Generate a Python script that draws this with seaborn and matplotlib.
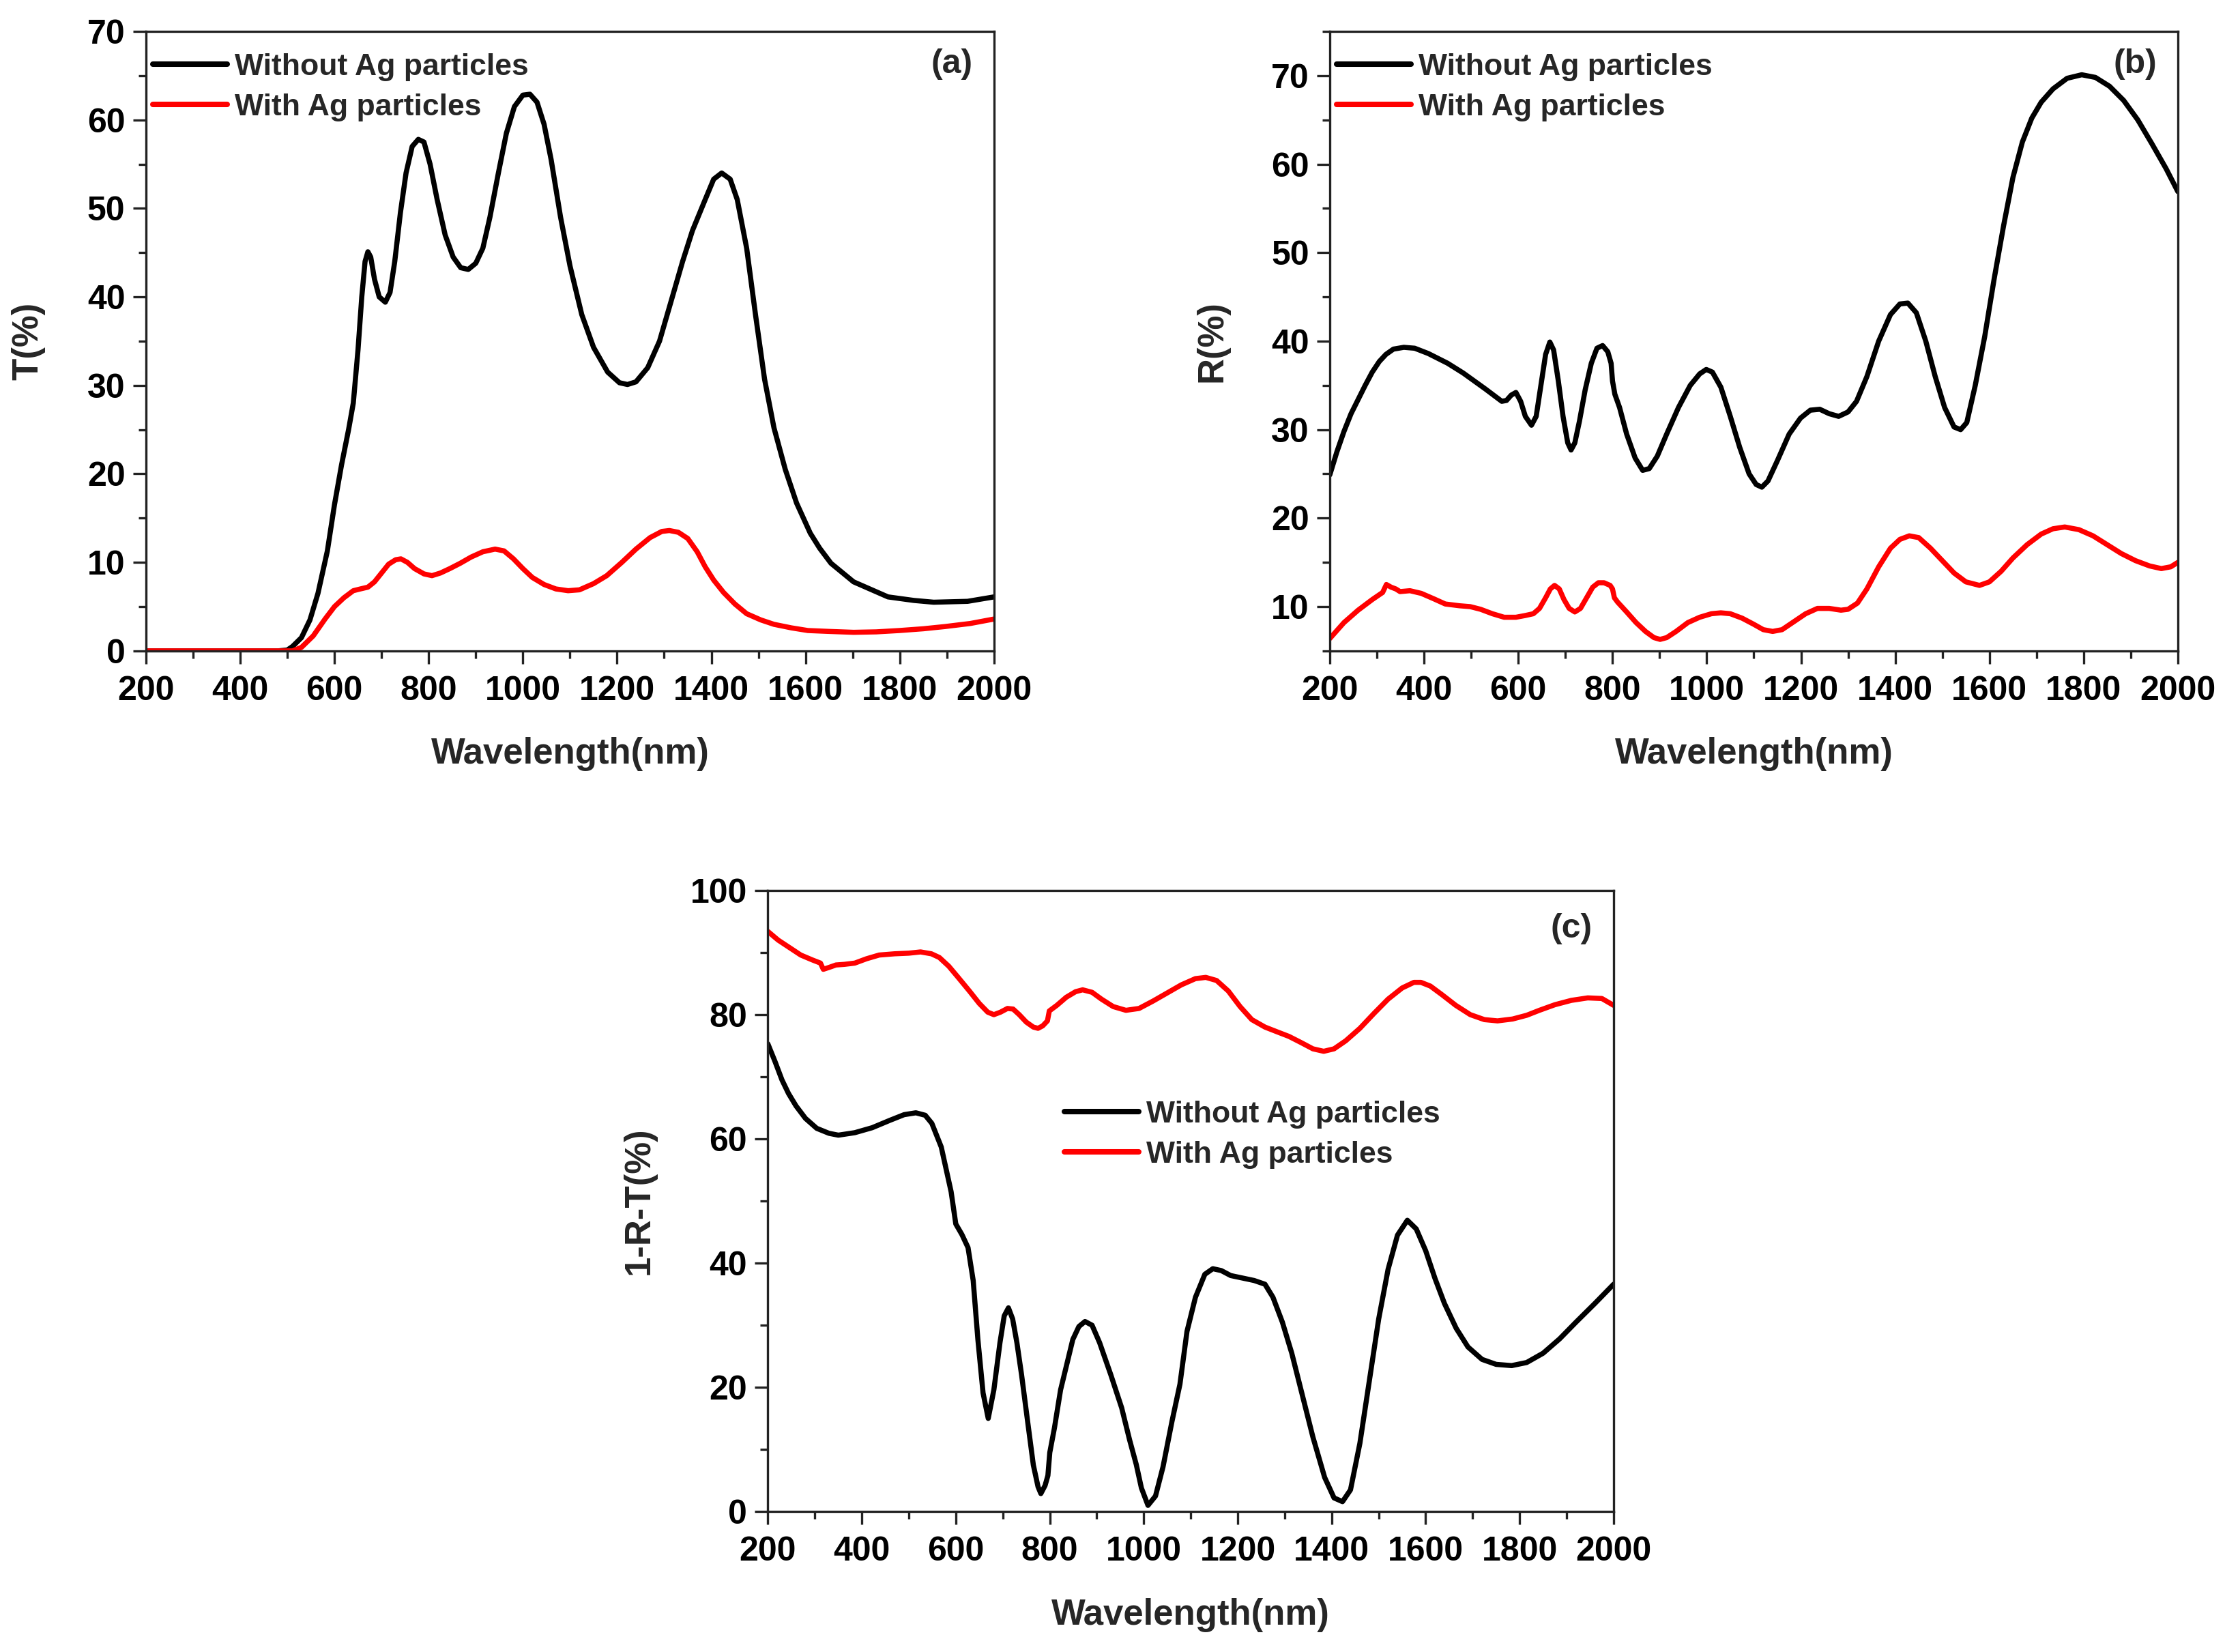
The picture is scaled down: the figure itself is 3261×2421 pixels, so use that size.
import matplotlib
matplotlib.use("Agg")
import matplotlib.pyplot as plt
import seaborn as sns
import numpy as np
import pandas as pd
from matplotlib.ticker import MultipleLocator

# ---------------- data ----------------
# (a) Transmittance
a_black_x = [200, 300, 400, 480, 500, 511, 530, 548, 565, 585, 600, 615, 630, 640, 650, 658, 665, 671, 677, 685,
             695, 708, 718, 728, 740, 752, 765, 778, 790, 803, 818, 835, 852, 868, 884, 900, 915, 930, 948, 965,
             982, 1000, 1015, 1030, 1045, 1060, 1080, 1100, 1125, 1150, 1180, 1205, 1222, 1240, 1265, 1290, 1320,
             1339, 1360, 1387, 1405, 1422, 1440, 1455, 1475, 1494, 1513, 1533, 1557, 1581, 1610, 1630, 1654,
             1702, 1775, 1830, 1872, 1944, 2000]
a_black_y = [0, 0, 0, 0, 0.1, 0.5, 1.5, 3.5, 6.5, 11.3, 16.5, 21.0, 25.0, 28.0, 34.0, 40.0, 44.0, 45.1, 44.5, 42.0,
             40.0, 39.4, 40.5, 44.0, 49.5, 54.0, 57.0, 57.8, 57.5, 55.0, 51.0, 47.0, 44.5, 43.3, 43.1, 43.8, 45.5,
             49.0, 54.0, 58.5, 61.5, 62.8, 62.9, 62.0, 59.5, 55.5, 49.0, 43.5, 38.0, 34.3, 31.5, 30.3, 30.1, 30.4,
             32.0, 35.0, 40.5, 44.0, 47.5, 51.0, 53.3, 54.0, 53.3, 51.0, 45.5, 37.9, 30.7, 25.2, 20.5, 16.7, 13.3,
             11.6, 9.9, 7.8, 6.1, 5.7, 5.5, 5.6, 6.1]

a_red_x = [200, 300, 400, 480, 511, 530, 555, 580, 600, 620, 640, 655, 671, 685, 700, 715, 730, 741, 755, 770,
           790, 807, 825, 845, 867, 890, 915, 941, 960, 980, 1000, 1020, 1045, 1070, 1096, 1120, 1150, 1178,
           1210, 1240, 1270, 1295, 1311, 1330, 1350, 1370, 1387, 1405, 1426, 1450, 1475, 1505, 1533, 1570,
           1605, 1650, 1702, 1750, 1799, 1850, 1896, 1950, 2000]
a_red_y = [0, 0, 0, 0, 0, 0.4, 1.7, 3.6, 5.0, 6.0, 6.8, 7.0, 7.2, 7.8, 8.8, 9.8, 10.3, 10.4, 10.0, 9.3,
           8.7, 8.5, 8.8, 9.3, 9.9, 10.6, 11.2, 11.5, 11.3, 10.4, 9.3, 8.3, 7.5, 7.0, 6.8, 6.9, 7.6, 8.5,
           10.0, 11.5, 12.8, 13.5, 13.6, 13.4, 12.7, 11.2, 9.5, 8.0, 6.6, 5.3, 4.2, 3.5, 3.0, 2.6,
           2.3, 2.2, 2.1, 2.15, 2.3, 2.5, 2.75, 3.1, 3.6]

# (b) Reflectance
b_black_x = [200, 215, 230, 245, 260, 275, 290, 305, 319, 335, 357, 380, 409, 450, 483, 530, 565, 575, 585, 595,
             605, 615, 628, 638, 648, 658, 667, 675, 685, 695, 705, 712, 720, 730, 742, 755, 767, 779, 790, 797,
             800, 805, 815, 830, 848, 864, 878, 895, 915, 940, 965, 985, 999, 1012, 1030, 1050, 1070, 1090, 1105,
             1117, 1130, 1150, 1175, 1199, 1220, 1240, 1260, 1280, 1300, 1318, 1340, 1365, 1390, 1410, 1427,
             1445, 1465, 1485, 1505, 1525, 1539, 1552, 1570, 1590, 1610, 1630, 1650, 1670, 1690, 1710, 1735,
             1765, 1796, 1825, 1855, 1885, 1915, 1945, 1975, 2000]
b_black_y = [24.9, 27.5, 29.8, 31.8, 33.4, 35.0, 36.5, 37.7, 38.5, 39.1, 39.3, 39.2, 38.6, 37.5, 36.4, 34.6, 33.2,
             33.3, 33.9, 34.2, 33.2, 31.5, 30.5, 31.5, 35.0, 38.5, 39.9, 39.0, 35.5, 31.5, 28.5, 27.7, 28.5, 31.0,
             34.5, 37.5, 39.2, 39.5, 38.8, 37.5, 35.5, 34.0, 32.5, 29.5, 26.8, 25.4, 25.6, 27.0, 29.5, 32.5, 35.0,
             36.3, 36.8, 36.5, 34.8, 31.5, 28.0, 25.0, 23.8, 23.5, 24.2, 26.5, 29.5, 31.3, 32.2, 32.3, 31.8, 31.5,
             32.0, 33.2, 36.0, 40.0, 43.0, 44.2, 44.3, 43.2, 40.0, 36.0, 32.5, 30.3, 30.0, 30.8, 35.0, 40.5, 47.0,
             53.0, 58.5, 62.5, 65.2, 67.0, 68.5, 69.7, 70.1, 69.8, 68.8, 67.2, 65.0, 62.3, 59.5, 56.9]

b_red_x = [200, 230, 260, 290, 312, 320, 330, 340, 349, 370, 394, 420, 445, 475, 498, 520, 545, 570, 595, 615,
           632, 645, 658, 668, 677, 687, 697, 708, 720, 732, 745, 758, 770, 782, 795, 800, 804, 811, 830, 850,
           870, 888, 901, 915, 935, 960, 985, 1010, 1030, 1050, 1075, 1100, 1120, 1140, 1160, 1185, 1210, 1235,
           1260, 1285, 1300, 1320, 1340, 1365, 1390, 1410, 1430, 1450, 1475, 1500, 1525, 1550, 1579, 1600,
           1625, 1650, 1680, 1710, 1735, 1760, 1790, 1820, 1850, 1880, 1910, 1940, 1965, 1985, 2000]
b_red_y = [6.4, 8.2, 9.6, 10.8, 11.6, 12.5, 12.2, 12.0, 11.7, 11.8, 11.5, 10.9, 10.3, 10.1, 10.0, 9.7, 9.2, 8.8,
           8.8, 9.0, 9.2, 9.8, 11.0, 12.0, 12.4, 12.0, 10.8, 9.8, 9.4, 9.8, 11.0, 12.2, 12.7, 12.7, 12.4, 12.0,
           11.0, 10.5, 9.4, 8.2, 7.2, 6.5, 6.3, 6.5, 7.2, 8.2, 8.8, 9.2, 9.3, 9.2, 8.7, 8.0, 7.4, 7.2, 7.4, 8.3,
           9.2, 9.8, 9.8, 9.6, 9.7, 10.4, 12.0, 14.5, 16.6, 17.6, 18.0, 17.8, 16.6, 15.2, 13.8, 12.8, 12.4, 12.8,
           14.0, 15.5, 17.0, 18.2, 18.8, 19.0, 18.7, 18.0, 17.0, 16.0, 15.2, 14.6, 14.3, 14.5, 15.0]

# (c) Absorbance 1-R-T
c_black_x = [200, 215, 230, 244, 260, 280, 304, 330, 350, 385, 422, 460, 490, 515, 535, 549, 569, 590, 600, 613,
             626, 637, 647, 658, 669, 681, 694, 703, 712, 721, 730, 740, 752, 765, 775, 781, 790, 796, 800, 810,
             823, 849, 862, 875, 890, 906, 930, 953, 970, 984, 995, 1009, 1025, 1041, 1060, 1077, 1092, 1110,
             1130, 1147, 1165, 1185, 1210, 1235, 1258, 1275, 1295, 1315, 1335, 1360, 1385, 1405, 1423, 1440,
             1460, 1480, 1500, 1520, 1540, 1561, 1580, 1600, 1620, 1640, 1665, 1690, 1720, 1750, 1783, 1815,
             1850, 1885, 1920, 1960, 2000]
c_black_y = [75.3, 72.5, 69.5, 67.3, 65.3, 63.3, 61.7, 60.9, 60.6, 61.0, 61.8, 63.0, 63.9, 64.2, 63.8, 62.5, 58.7,
             51.5, 46.3, 44.6, 42.5, 37.2, 27.7, 19.1, 15.0, 19.6, 27.2, 31.5, 32.8, 31.0, 27.2, 22.0, 15.0, 7.5,
             4.0, 2.9, 4.2, 5.8, 9.5, 13.5, 19.6, 27.7, 29.8, 30.6, 30.0, 27.2, 22.0, 16.7, 11.5, 7.6, 3.8, 1.0,
             2.5, 7.2, 14.5, 20.5, 29.0, 34.5, 38.2, 39.1, 38.8, 38.0, 37.6, 37.2, 36.6, 34.5, 30.5, 25.5, 19.5,
             12.0, 5.5, 2.2, 1.6, 3.5, 11.0, 21.0, 31.0, 39.0, 44.5, 46.9, 45.5, 42.0, 37.5, 33.5, 29.5, 26.5,
             24.5, 23.7, 23.5, 24.0, 25.5, 27.8, 30.5, 33.5, 36.6]

c_red_x = [200, 222, 244, 270, 295, 312, 318, 330, 345, 363, 385, 410, 437, 470, 500, 525, 548, 565, 585, 605,
           629, 650, 668, 681, 695, 710, 722, 735, 750, 765, 775, 785, 795, 799, 815, 835, 855, 870, 890, 910,
           935, 962, 990, 1020, 1050, 1080, 1110, 1132, 1155, 1180, 1205, 1230, 1258, 1285, 1309, 1335, 1360,
           1383, 1405, 1430, 1460, 1490, 1520, 1550, 1575, 1590, 1610, 1635, 1664, 1695, 1725, 1753, 1785,
           1815, 1842, 1875, 1910, 1945, 1975, 2000]
c_red_y = [93.4, 92.0, 90.9, 89.6, 88.8, 88.3, 87.3, 87.6, 88.0, 88.1, 88.3, 89.0, 89.6, 89.8, 89.9, 90.1, 89.8,
           89.2, 87.8, 86.0, 83.8, 81.8, 80.4, 80.0, 80.4, 81.0, 80.9, 80.0, 78.8, 78.0, 77.8, 78.2, 79.0, 80.6,
           81.5, 82.8, 83.7, 84.0, 83.6, 82.5, 81.3, 80.7, 81.0, 82.2, 83.5, 84.8, 85.8, 86.0, 85.5, 83.8, 81.3,
           79.2, 78.0, 77.2, 76.5, 75.5, 74.5, 74.1, 74.5, 75.8, 77.8, 80.2, 82.5, 84.3, 85.2, 85.2, 84.6, 83.2,
           81.5, 80.0, 79.2, 79.0, 79.3, 79.9, 80.7, 81.6, 82.3, 82.7, 82.6, 81.5]

legend_labels = ["Without Ag particles", "With Ag particles"]
panel_tags = ["(a)", "(b)", "(c)"]
y_labels = ["T(%)", "R(%)", "1-R-T(%)"]
x_label = "Wavelength(nm)"
x_ticks = [200, 400, 600, 800, 1000, 1200, 1400, 1600, 1800, 2000]

# ---------------- style ----------------
sns.set_theme(style="ticks")
plt.rcParams['font.family'] = ['Liberation Sans', 'DejaVu Sans']
plt.rcParams['font.weight'] = 'bold'
plt.rcParams['axes.labelweight'] = 'bold'

fig = plt.figure(figsize=(16.31, 12.105), dpi=200)
axA = fig.add_axes([0.0656, 0.606, 0.381, 0.375])
axB = fig.add_axes([0.5975, 0.606, 0.381, 0.375])
axC = fig.add_axes([0.345, 0.085, 0.380, 0.376])

BLACK = "#000000"
RED = "#ff0000"
LW = 2.7

def draw(ax, bx, by, rx, ry):
    dfb = pd.DataFrame({"x": bx, "y": by})
    dfr = pd.DataFrame({"x": rx, "y": ry})
    sns.lineplot(data=dfb, x="x", y="y", ax=ax, color=BLACK, lw=LW, estimator=None, sort=False,
                 label=legend_labels[0])
    sns.lineplot(data=dfr, x="x", y="y", ax=ax, color=RED, lw=LW, estimator=None, sort=False,
                 label=legend_labels[1])
    for ln in ax.get_lines():
        ln.set_solid_joinstyle('round')
        ln.set_solid_capstyle('round')

def style(ax, ylim, ymaj, ymin, ylabel, tag, tagpos, legpos, ylpad):
    ax.set_xlim(200, 2000)
    ax.set_ylim(*ylim)
    ax.set_xticks(x_ticks)
    ax.xaxis.set_minor_locator(MultipleLocator(100))
    ax.yaxis.set_major_locator(MultipleLocator(ymaj))
    ax.yaxis.set_minor_locator(MultipleLocator(ymin))
    for s in ax.spines.values():
        s.set_linewidth(1.2)
        s.set_color("#222222")
    ax.tick_params(axis='both', which='major', direction='out', length=7, width=1.2,
                   labelsize=18, colors="#222222", labelcolor="black")
    ax.tick_params(axis='x', which='major', pad=6)
    ax.tick_params(axis='y', which='major', pad=4)
    ax.tick_params(axis='both', which='minor', direction='out', length=4, width=1.2, colors="#222222")
    ax.tick_params(top=False, right=False, which='both')
    for lab in ax.get_xticklabels() + ax.get_yticklabels():
        lab.set_fontweight('bold')
    ax.set_xlabel(x_label, fontsize=19, fontweight='bold', labelpad=16)
    ax.set_ylabel(ylabel, fontsize=19, fontweight='bold', labelpad=ylpad)
    ax.text(tagpos[0], tagpos[1], tag, transform=ax.transAxes, fontsize=18,
            fontweight='bold', ha='center', va='center')
    leg = ax.legend(loc='upper left', bbox_to_anchor=legpos, frameon=False,
                    fontsize=16, handlelength=2.45, handletextpad=0.25, labelspacing=0.41,
                    borderaxespad=0, borderpad=0)
    for t in leg.get_texts():
        t.set_fontweight('bold')
    for l in leg.get_lines():
        l.set_linewidth(LW + 0.2)

draw(axA, a_black_x, a_black_y, a_red_x, a_red_y)
style(axA, (0, 70), 10, 5, y_labels[0], panel_tags[0], (0.95, 0.947), (0.008, 0.965), 22)

draw(axB, b_black_x, b_black_y, b_red_x, b_red_y)
style(axB, (5, 75), 10, 5, y_labels[1], panel_tags[1], (0.95, 0.947), (0.008, 0.965), 22)

draw(axC, c_black_x, c_black_y, c_red_x, c_red_y)
style(axC, (0, 100), 20, 10, y_labels[2], panel_tags[2], (0.95, 0.938), (0.351, 0.662), 18)

fig.savefig("out.png", dpi=200, facecolor="white")
